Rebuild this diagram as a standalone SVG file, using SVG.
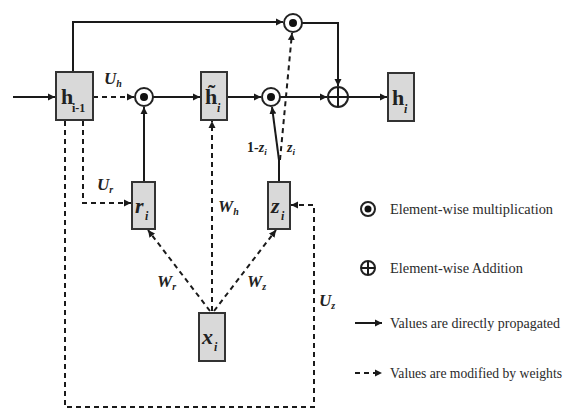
<svg xmlns="http://www.w3.org/2000/svg" width="568" height="411" viewBox="0 0 568 411">
<style>
.box{fill:#d9d9d9;stroke:#333;stroke-width:2}
.ln{fill:none;stroke:#1a1a1a;stroke-width:2}
.dl{fill:none;stroke:#1a1a1a;stroke-width:2;stroke-dasharray:5 4}
.op{fill:#fff;stroke:#222;stroke-width:2}
.dot{fill:#111}
.lab{font-family:"Liberation Serif",serif;font-weight:bold;font-style:italic;fill:#222}
.nm{font-family:"Liberation Serif",serif;font-weight:bold;fill:#222}
.leg{font-family:"Liberation Serif",serif;font-size:14px;fill:#2a2a2a}
</style>
<defs>
<marker id="ah" markerUnits="userSpaceOnUse" markerWidth="8" markerHeight="8" refX="7" refY="4" orient="auto">
<path d="M0,0.5 L7,4 L0,7.5 Z" fill="#1a1a1a"/>
</marker>
</defs>
<g id="connectors">
<path class="ln" d="M13 97 H55" marker-end="url(#ah)"/>
<path class="ln" d="M73 72 V22 H283" marker-end="url(#ah)"/>
<path class="ln" d="M302 23 H338 V86" marker-end="url(#ah)"/>
<path class="dl" d="M93 97 H134" marker-end="url(#ah)"/>
<path class="ln" d="M153 97 H200" marker-end="url(#ah)"/>
<path class="ln" d="M227 97 H261" marker-end="url(#ah)"/>
<path class="ln" d="M280 97 H327" marker-end="url(#ah)"/>
<path class="ln" d="M348 97 H387" marker-end="url(#ah)"/>
<path class="ln" d="M144 182 V107" marker-end="url(#ah)"/>
<path class="dl" d="M83 121 V203 H131" marker-end="url(#ah)"/>
<path class="dl" d="M65 121 V407 H314 V205 H291" marker-end="url(#ah)"/>
<path class="ln" d="M279 182 V160"/>
<path class="ln" d="M279 160 L272 107" marker-end="url(#ah)"/>
<path class="dl" d="M280 160 L292 33" marker-end="url(#ah)"/>
<path class="dl" d="M212 311 V121" marker-end="url(#ah)"/>
<path class="dl" d="M210 311 L148 230" marker-end="url(#ah)"/>
<path class="dl" d="M214 311 L276 230" marker-end="url(#ah)"/>
</g>
<g id="h_prev"><rect class="box" x="56" y="72" width="37" height="48"/><text class="nm" x="61" y="104" font-size="22">h</text><text class="nm" x="72" y="112" font-size="12">i-1</text></g>
<g id="h_tilde"><rect class="box" x="201" y="72" width="26" height="48"/><text class="nm" x="205" y="104" font-size="22">h&#x303;</text><text class="lab" x="217" y="112" font-size="12">i</text></g>
<g id="h_i"><rect class="box" x="388" y="73" width="26" height="48"/><text class="nm" x="392" y="105" font-size="22">h</text><text class="lab" x="404" y="113" font-size="12">i</text></g>
<g id="r_i"><rect class="box" x="132" y="182" width="23" height="47"/><text class="lab" x="135" y="213" font-size="22">r</text><text class="lab" x="145" y="220" font-size="12">i</text></g>
<g id="z_i"><rect class="box" x="268" y="182" width="22" height="47"/><text class="lab" x="271" y="213" font-size="22">z</text><text class="lab" x="281" y="220" font-size="12">i</text></g>
<g id="x_i"><rect class="box" x="199" y="313" width="26" height="48"/><text class="lab" x="202" y="344" font-size="22">x</text><text class="lab" x="214" y="351" font-size="12">i</text></g>
<g id="mul_r"><circle class="op" cx="144" cy="97" r="9"/><circle class="dot" cx="144" cy="97" r="4"/></g>
<g id="mul_z"><circle class="op" cx="271" cy="97" r="9"/><circle class="dot" cx="271" cy="97" r="4"/></g>
<g id="mul_top"><circle class="op" cx="293" cy="23" r="9"/><circle class="dot" cx="293" cy="23" r="4"/></g>
<g id="add"><circle class="op" cx="338" cy="97" r="10"/><path class="ln" d="M328 97 H348 M338 87 V107"/></g>
<g id="labels">
<text class="lab" x="104" y="84" font-size="17">U<tspan font-size="10" dy="3">h</tspan></text>
<text class="lab" x="97" y="190" font-size="17">U<tspan font-size="10" dy="3">r</tspan></text>
<text class="lab" x="218" y="212" font-size="17">W<tspan font-size="10" dy="3">h</tspan></text>
<text class="lab" x="157" y="287" font-size="17">W<tspan font-size="10" dy="3">r</tspan></text>
<text class="lab" x="247" y="287" font-size="17">W<tspan font-size="10" dy="3">z</tspan></text>
<text class="lab" x="319" y="306" font-size="17">U<tspan font-size="10" dy="3">z</tspan></text>
<text class="nm" x="247" y="152" font-size="14">1-<tspan font-style="italic">z</tspan><tspan font-size="9" dy="3" font-style="italic">i</tspan></text>
<text class="lab" x="287" y="152" font-size="14">z<tspan font-size="9" dy="3">i</tspan></text>
</g>
<g id="legend">
<circle class="op" cx="368" cy="209" r="7"/><circle class="dot" cx="368" cy="209" r="3.5"/>
<text class="leg" x="390" y="214" textLength="163" lengthAdjust="spacingAndGlyphs">Element-wise multiplication</text>
<circle class="op" cx="368" cy="268" r="7"/><path class="ln" d="M361 268 H375 M368 261 V275"/>
<text class="leg" x="390" y="273" textLength="133" lengthAdjust="spacingAndGlyphs">Element-wise Addition</text>
<path class="ln" d="M355 323 H382" marker-end="url(#ah)"/>
<text class="leg" x="390" y="328" textLength="170" lengthAdjust="spacingAndGlyphs">Values are directly propagated</text>
<path class="dl" d="M355 373 H382" stroke-dasharray="4 2" marker-end="url(#ah)"/>
<text class="leg" x="390" y="378" textLength="172" lengthAdjust="spacingAndGlyphs">Values are modified by weights</text>
</g>
</svg>
